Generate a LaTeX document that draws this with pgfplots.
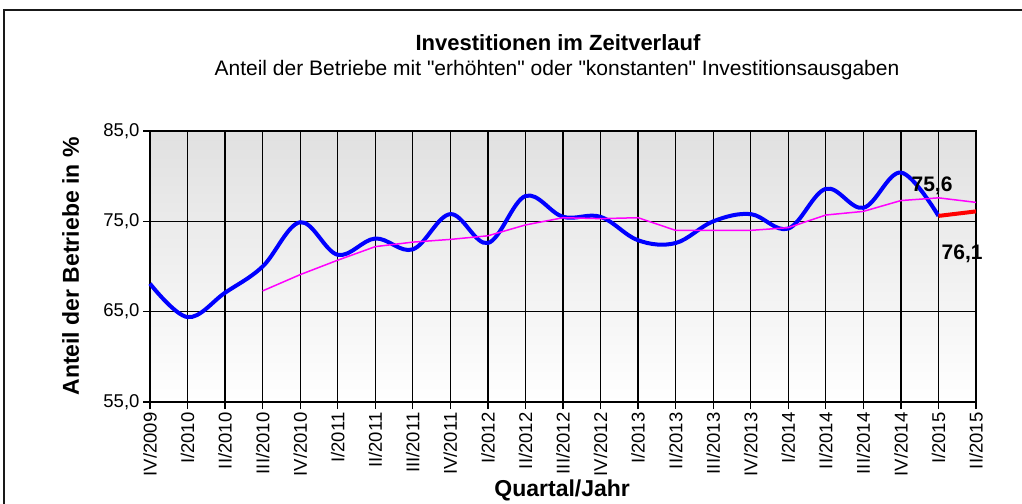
\documentclass[border=0pt]{standalone}
\usepackage{fontspec}
\setmainfont{Liberation Sans}[Ligatures=TeXOff]
\usepackage{pgfplots}
\pgfplotsset{compat=1.18}
\definecolor{xlblue}{RGB}{0,0,255}
\definecolor{xlred}{RGB}{255,0,0}
\definecolor{xlmag}{RGB}{255,0,255}

\begin{document}
\begin{tikzpicture}
\useasboundingbox (0pt,0pt) rectangle (1022pt,-503pt);
% outer chart frame (only left and top edges visible)
\draw[line width=2.2pt, black!90] (4pt,-510pt) -- (4pt,-10pt) -- (1030pt,-10pt);
\node[font=\fontsize{22}{26}\selectfont\bfseries] at (558pt,-43pt) {Investitionen im Zeitverlauf};
\node[font=\fontsize{21}{25}\selectfont] at (557pt,-70pt) {Anteil der Betriebe mit "erhöhten" oder "konstanten" Investitionsausgaben};

\begin{axis}[
    at={(150pt,-402pt)}, anchor=south west,
    scale only axis,
    width=826pt, height=271pt,
    xmin=0, xmax=22, ymin=55, ymax=85,
    xtick={0,...,22},
    xticklabels={IV/2009,I/2010,II/2010,III/2010,IV/2010,I/2011,II/2011,III/2011,IV/2011,
                 I/2012,II/2012,III/2012,IV/2012,I/2013,II/2013,III/2013,IV/2013,
                 I/2014,II/2014,III/2014,IV/2014,I/2015,II/2015},
    ytick={55,65,75,85},
    tick pos=left,
    tick align=outside,
    major tick length=7pt,
    tick style={black, line width=1.3pt},
    axis line style={black, line width=1.3pt},
    grid=major,
    major grid style={black, line width=1.3pt},
    axis background/.style={top color=gray!24, bottom color=white},
    x tick label style={rotate=90, anchor=east, font=\fontsize{18.5}{20}\selectfont},
    y tick label style={font=\fontsize{18.5}{20}\selectfont},
    yticklabel style={/pgf/number format/.cd, fixed, fixed zerofill, precision=1, use comma, assume math mode=true},
    xlabel={Quartal/Jahr},
    ylabel={Anteil der Betriebe in \%},
    label style={font=\fontsize{23}{26}\selectfont\bfseries},
    xlabel style={at={(axis description cs:0.499,-0.325)}, anchor=center},
    ylabel style={at={(axis description cs:-0.096,0.5)}, anchor=center},
    clip=false,
]

%% Anteil (blau, geglaettet)
\addplot[xlblue, line width=4pt, smooth, tension=0.6] coordinates {
    (0,68.1)(1,64.4)(2,67.1)(3,70.0)(4,74.9)(5,71.3)(6,73.1)(7,71.9)
    (8,75.8)(9,72.6)(10,77.8)(11,75.5)(12,75.5)(13,72.9)(14,72.6)(15,75.0)
    (16,75.8)(17,74.2)(18,78.6)(19,76.5)(20,80.4)(21,75.6)
};

%% letzter Wert (rot)
\addplot[xlred, line width=4pt] coordinates {
    (21,75.6)(22,76.1)
};

%% gleitender Durchschnitt (magenta)
\addplot[xlmag, line width=1.5pt] coordinates {
    (3,67.3)(4,69.1)(5,70.7)(6,72.2)(7,72.7)(8,73.0)(9,73.4)(10,74.6)
    (11,75.4)(12,75.3)(13,75.4)(14,74.0)(15,74.0)(16,74.0)(17,74.3)
    (18,75.7)(19,76.1)(20,77.3)(21,77.6)(22,77.1)
};

\node[font=\fontsize{21}{24}\selectfont\bfseries] at (axis cs:20.83,78.9) {75,6};
\node[font=\fontsize{21}{24}\selectfont\bfseries] at (axis cs:21.63,71.4) {76,1};
\end{axis}
\end{tikzpicture}
\end{document}
